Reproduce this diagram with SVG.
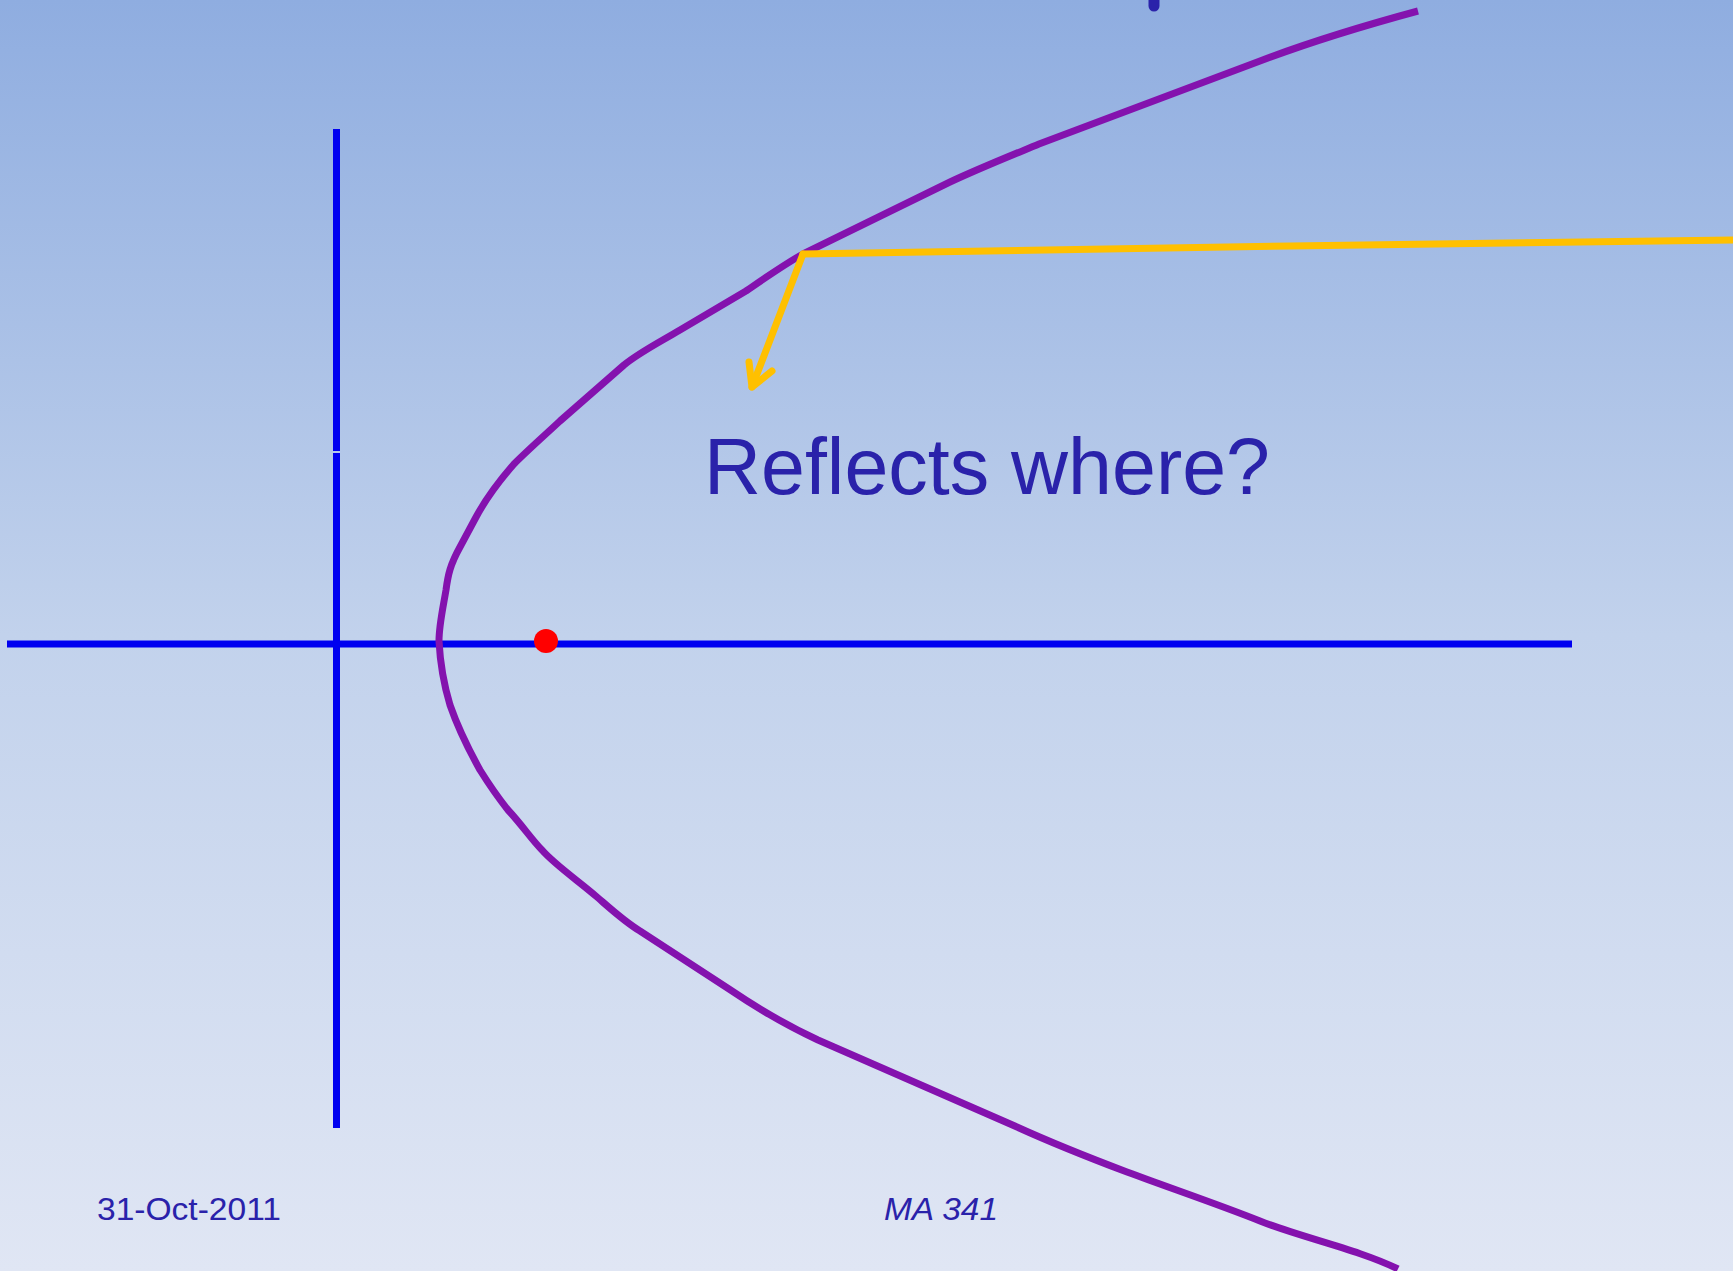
<svg xmlns="http://www.w3.org/2000/svg" width="1733" height="1271" viewBox="0 0 1733 1271">
<defs>
<linearGradient id="bg" x1="0" y1="0" x2="0" y2="1">
<stop offset="0" stop-color="#8FADE0"/>
<stop offset="0.5" stop-color="#C2D2EC"/>
<stop offset="1" stop-color="#E0E6F4"/>
</linearGradient>
<style>
.axis{stroke:#0000F0;stroke-width:7;fill:none}
.curve{stroke:#8412AE;stroke-width:7;fill:none;stroke-linejoin:round;stroke-linecap:butt}
.ray{stroke:#FFC000;stroke-width:7;fill:none;stroke-linejoin:round;stroke-linecap:round}
.label{font-family:"Comic Sans MS","Liberation Sans",sans-serif;fill:#2A22AA}
</style>
</defs>
<rect width="1733" height="1271" fill="url(#bg)"/>
<line x1="1154" y1="0" x2="1154" y2="6" stroke="#2A22AA" stroke-width="11" stroke-linecap="round"/>
<g id="axes">
<line class="axis" x1="7" y1="644" x2="1572" y2="644"/>
<line class="axis" x1="336.5" y1="129" x2="336.5" y2="451"/>
<line class="axis" x1="336.5" y1="453" x2="336.5" y2="1128"/>
</g>
<g id="parabola">
<path class="curve" d="M1418,11 C1370,24 1310,42 1260,61 L1039,144 C1010,156 980,168 950,182 L803,254 C785,264 765,278 746,291 L680,330 C660,342 640,352 624,365 L560,421 C545,435 528,450 514,464 C500,480 485,500 475,519 L460,547 C450,565 448,575 446,590 C443,608 439,625 439,641 C440,660 444,685 450,705 C458,728 470,752 480,770 C490,786 500,800 508,810 C522,825 532,840 542,850 C555,865 580,882 597,897 C612,910 625,922 640,931 L729,989 C760,1010 790,1027 818,1040 L1017,1127 C1050,1142 1090,1158 1127,1172 C1170,1188 1220,1205 1260,1221 C1300,1237 1360,1250 1398,1269"/>
</g>
<g id="connectors">
<path class="ray" d="M1733,240 L1290,246 L803,254"/>
<line class="ray" x1="803" y1="254" x2="752" y2="387"/>
<polyline class="ray" points="749,362 752,387 772,371"/>
</g>
<g id="focus">
<circle cx="546" cy="641" r="12" fill="#FF0000"/>
</g>
<g id="question">
<text class="label" x="704" y="494" font-size="80" textLength="566" lengthAdjust="spacingAndGlyphs">Reflects where?</text>
</g>
<g id="footer">
<text class="label" x="97" y="1220" font-size="32" textLength="184" lengthAdjust="spacingAndGlyphs">31-Oct-2011</text>
<text class="label" x="884" y="1220" font-size="32" font-style="italic" textLength="114" lengthAdjust="spacingAndGlyphs">MA 341</text>
</g>
</svg>
